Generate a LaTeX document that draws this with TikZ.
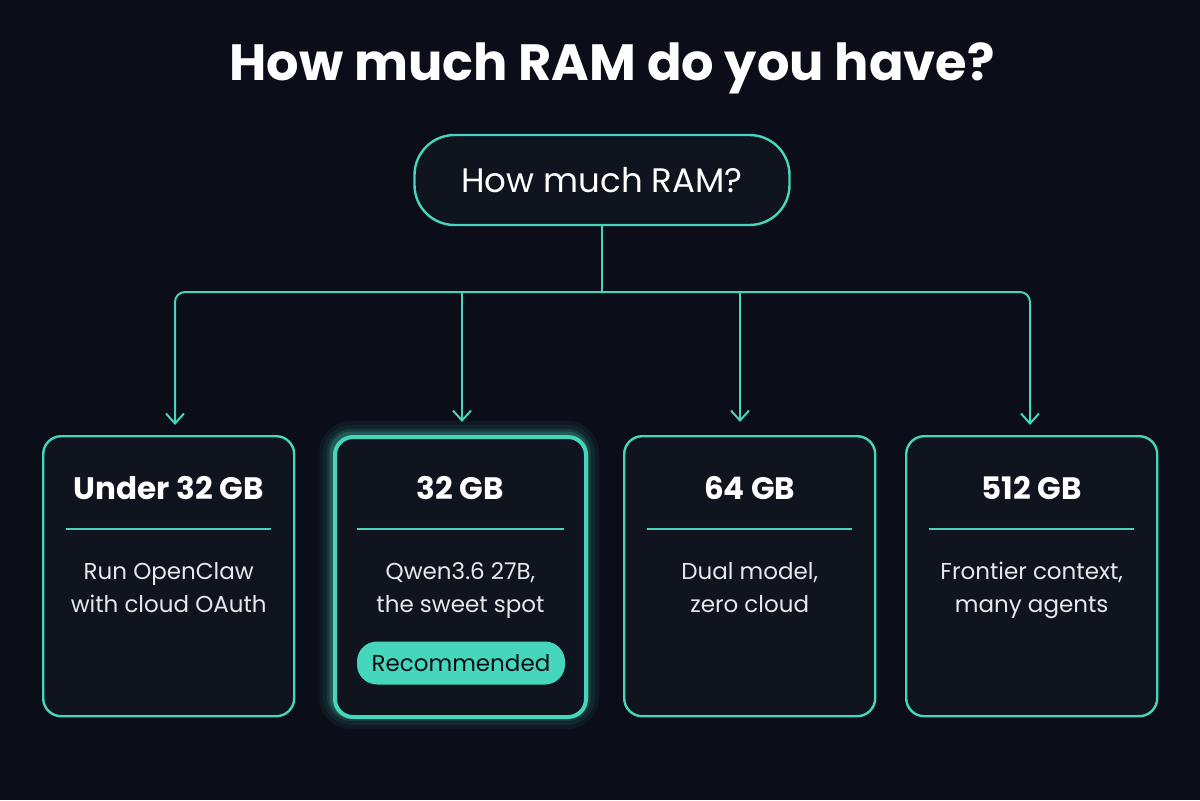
\documentclass[tikz,border=0pt]{standalone}
\usepackage{fontspec}
\setmainfont{Poppins}
\usetikzlibrary{positioning, arrows.meta}
\definecolor{bgdark}{HTML}{0B0E18}
\definecolor{teal}{HTML}{45D6BC}
\definecolor{boxfill}{HTML}{10141E}
\definecolor{bodytext}{HTML}{E6E8EC}

\tikzset{
  card/.style={draw=teal, line width=1.2pt, rounded corners=9pt, fill=boxfill,
    minimum width=125.5pt, minimum height=140pt, anchor=north west},
  heading/.style={text=white, font=\fontsize{15.5}{18}\selectfont\bfseries},
  body/.style={text=bodytext, align=center, font=\fontsize{11.5}{16.5}\selectfont},
  link/.style={draw=teal, line width=1pt, rounded corners=5pt},
  tip/.style={-{Straight Barb[length=5pt,width=9pt]}}
}

\begin{document}
\begin{tikzpicture}[x=0.5pt, y=-0.5pt]
	\fill[bgdark] (0,0) rectangle (1200,800);
	\useasboundingbox (0,0) rectangle (1200,800);

	\node[text=white, font=\fontsize{25.5}{30}\selectfont\bfseries] (title) at (612,68) {How much RAM do you have?};
	\node[draw=teal, line width=1.2pt, rounded corners=20pt, fill=boxfill,
		minimum width=187.5pt, minimum height=45pt, text=white,
		font=\fontsize{17}{20}\selectfont] (ram) at (602,180) {How much RAM?};

	% glow around the recommended card
	\foreach \w/\o in {14/0.06, 10/0.08, 6/0.12, 3.5/0.2}
		\draw[teal, line width=\w pt, opacity=\o, rounded corners=9pt] (333,435) rectangle (585,715);

	\node[card] (c1) at (42,435) {};
	\node[card, line width=2pt] (c2) at (333,435) {};
	\node[card] (c3) at (623,435) {};
	\node[card] (c4) at (905,435) {};

	% branches
	\coordinate (split) at (602,292);
	\draw[link] (ram.south) -- (split);
	\draw[link, tip] (split) -| (175,425);
	\draw[link, tip] (split) -| (1030,425);
	\draw[link, tip] (462,292) -- (462,422);
	\draw[link, tip] (740,292) -- (740,422);

	\foreach \c/\head/\txt in {c1/Under 32 GB/{Run OpenClaw\\with cloud OAuth},
		c2/32 GB/{Qwen3.6 27B,\\the sweet spot},
		c3/64 GB/{Dual model,\\zero cloud},
		c4/512 GB/{Frontier context,\\many agents}} {
		\node[heading, below=17pt of \c.north] (\c-head) {\head};
		\draw[teal, line width=0.8pt] ([xshift=12pt, yshift=-47pt]\c.north west) -- ([xshift=-12pt, yshift=-47pt]\c.north east);
		\node[body, below=60pt of \c.north] (\c-body) {\txt};
	}

	\node[fill=teal, rounded corners=10pt, minimum width=104pt, minimum height=21.5pt,
		text=bgdark, font=\fontsize{11.5}{14}\selectfont] (rec) at (461,663) {Recommended};
\end{tikzpicture}
\end{document}
